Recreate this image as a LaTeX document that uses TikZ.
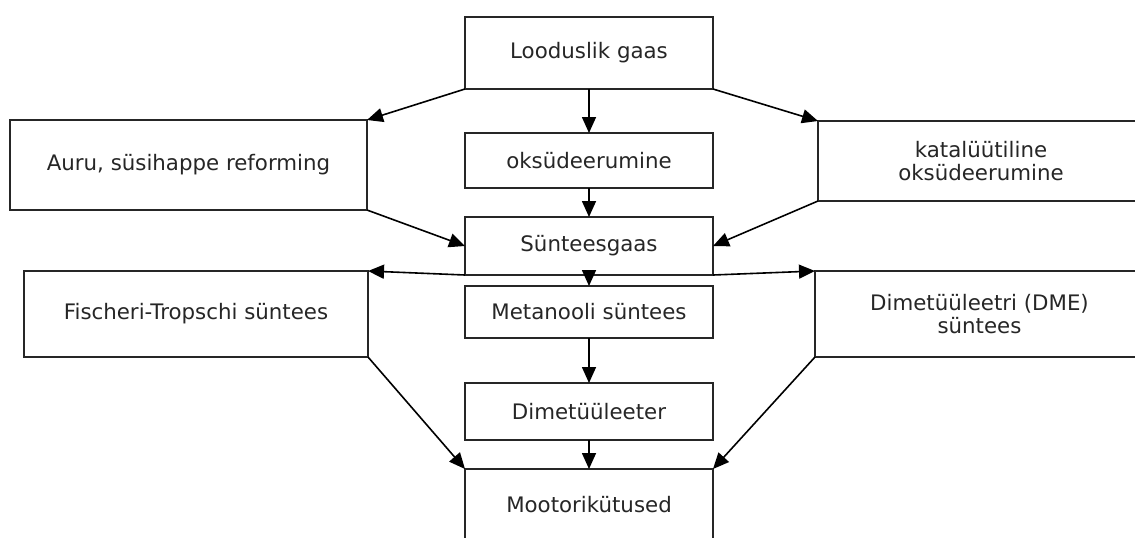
\documentclass[tikz,border=0pt]{standalone}
\usepackage{fontspec}
\setmainfont{DejaVu Sans}
\usetikzlibrary{arrows.meta,positioning}

\begin{document}
\begin{tikzpicture}[
  x=0.75pt, y=-0.75pt,
  node distance=21.75pt,
  colbox/.style={rectangle, draw=black!85, line width=1.2pt, minimum width=186pt,
    inner sep=0pt, outer sep=0pt, align=center, text=black!85,
    font=\fontsize{16}{17.5}\selectfont},
  sidebox/.style={rectangle, draw=black!85, line width=1.2pt, inner sep=0pt,
    outer sep=0pt, align=center, text=black!85, font=\fontsize{16}{17.5}\selectfont},
  arrow/.style={-{Triangle[length=12pt,width=10.5pt]}, line width=1.2pt}
]
  \useasboundingbox (0,0) rectangle (1135,537);
  \clip (0,0) rectangle (1135,537);
  % middle column
  \node[colbox, minimum height=54pt] at (589,53) (gaas)   {Looduslik gaas};
  \node[colbox, minimum height=41.25pt, below=33pt of gaas] (oks)  {oksüdeerumine};
  \node[colbox, minimum height=43.5pt, below=of oks]    (synt)   {Sünteesgaas};
  \node[colbox, minimum height=39pt, below=8.25pt of synt] (metan) {Metanooli süntees};
  \node[colbox, minimum height=42.75pt, below=33.75pt of metan] (dimet) {Dimetüüleeter};
  \node[colbox, minimum height=53.25pt, below=of dimet] (kytus) {Mootorikütused};
  % side boxes
  \node[sidebox, minimum width=267.75pt, minimum height=67.5pt] at (188.5,165) (auru)
    {Auru, süsihappe reforming};
  \node[sidebox, minimum width=244.5pt, minimum height=60pt] at (981,161) (katal)
    {katalüütiline\\oksüdeerumine};
  \node[sidebox, minimum width=258pt, minimum height=64.5pt] at (196,314) (ft)
    {Fischeri-Tropschi süntees};
  \node[sidebox, minimum width=246.75pt, minimum height=64.5pt] at (979.5,314) (dme)
    {Dimetüüleetri (DME)\\süntees};
  \draw[arrow] (gaas.south west) -- (auru.north east);
  \draw[arrow] (gaas)  -- (oks);
  \draw[arrow] (gaas.south east) -- (katal.north west);
  \draw[arrow] (oks)   -- (synt);
  \draw[arrow] (auru.south east)  -- (synt.west);
  \draw[arrow] (katal.south west) -- (synt.east);
  \draw[arrow] (synt.south west)  -- (ft.north east);
  \draw[arrow] (synt)  -- (metan);
  \draw[arrow] (synt.south east)  -- (dme.north west);
  \draw[arrow] (metan) -- (dimet);
  \draw[arrow] (dimet) -- (kytus);
  \draw[arrow] (ft.south east)  -- (kytus.north west);
  \draw[arrow] (dme.south west) -- (kytus.north east);
\end{tikzpicture}
\end{document}
